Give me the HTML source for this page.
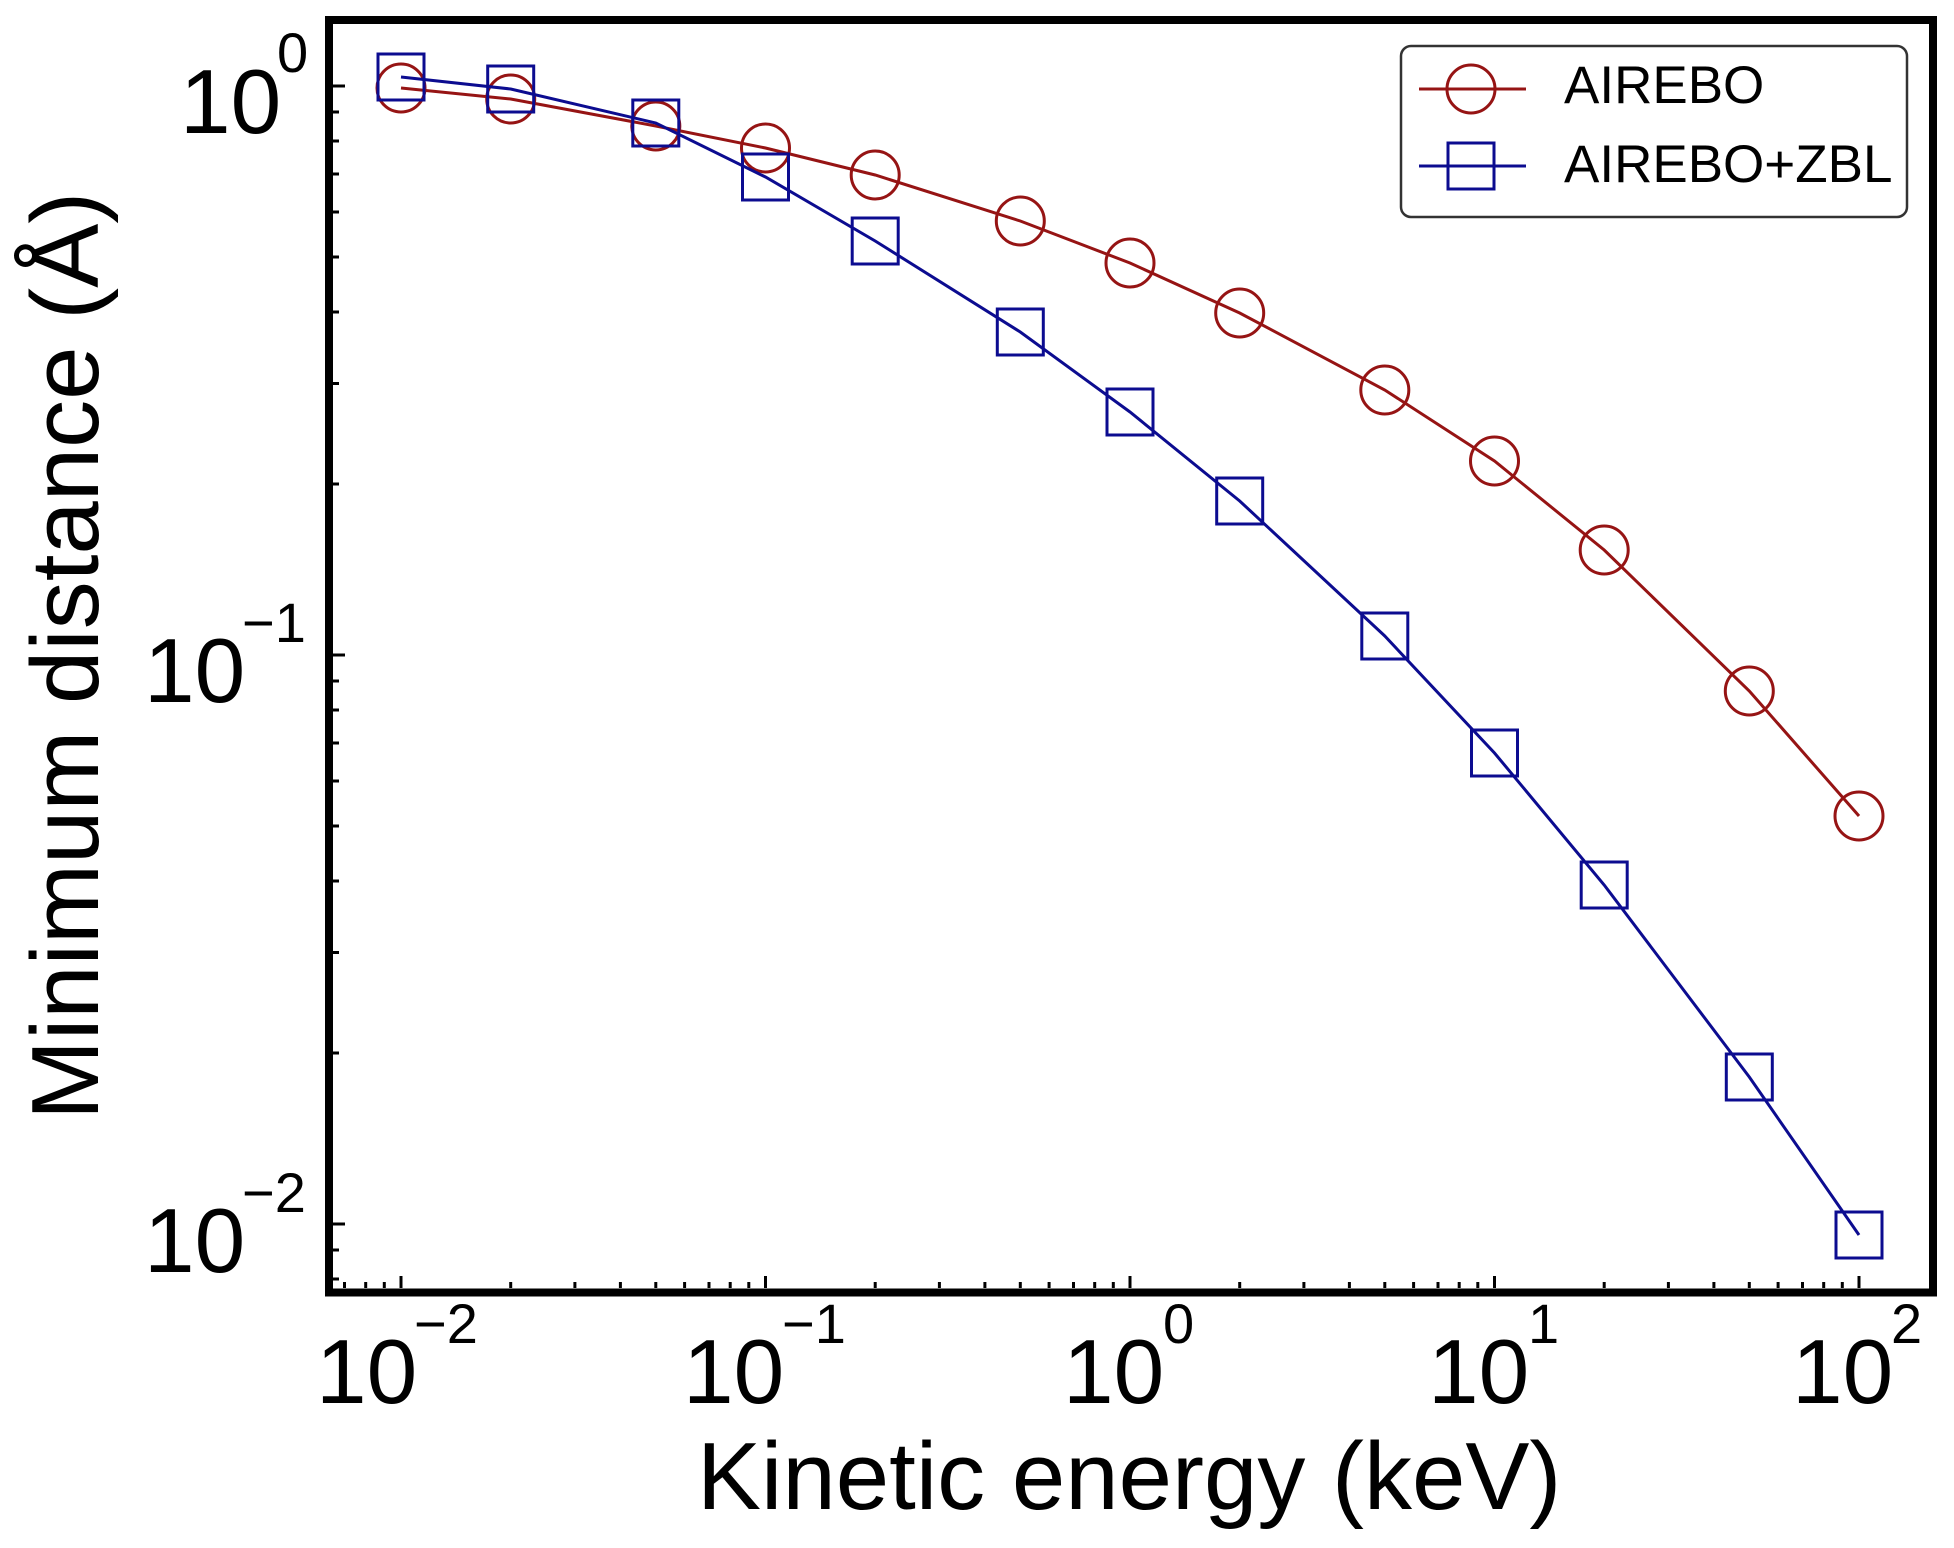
<!DOCTYPE html>
<html>
<head>
<meta charset="utf-8">
<style>
  html, body { margin: 0; padding: 0; background: #ffffff; }
  svg { display: block; }
  text { font-family: "Liberation Sans", Arial, sans-serif; fill: #000; }
</style>
</head>
<body>
<svg width="1954" height="1548" viewBox="0 0 1954 1548" xmlns="http://www.w3.org/2000/svg">
  <rect x="0" y="0" width="1954" height="1548" fill="#ffffff"/>

  <!-- Y-axis ticks (inward) -->
  <g stroke="#000" stroke-width="3">
    <!-- majors -->
    <line x1="333" y1="86" x2="345" y2="86"/>
    <line x1="333" y1="655" x2="345" y2="655"/>
    <line x1="333" y1="1224" x2="345" y2="1224"/>
    <!-- minors -->
    <line x1="333" y1="112" x2="339" y2="112"/>
    <line x1="333" y1="141" x2="339" y2="141"/>
    <line x1="333" y1="174" x2="339" y2="174"/>
    <line x1="333" y1="212" x2="339" y2="212"/>
    <line x1="333" y1="257" x2="339" y2="257"/>
    <line x1="333" y1="312" x2="339" y2="312"/>
    <line x1="333" y1="383.5" x2="339" y2="383.5"/>
    <line x1="333" y1="484" x2="339" y2="484"/>
    <line x1="333" y1="681" x2="339" y2="681"/>
    <line x1="333" y1="710" x2="339" y2="710"/>
    <line x1="333" y1="743" x2="339" y2="743"/>
    <line x1="333" y1="781" x2="339" y2="781"/>
    <line x1="333" y1="826" x2="339" y2="826"/>
    <line x1="333" y1="881" x2="339" y2="881"/>
    <line x1="333" y1="952.5" x2="339" y2="952.5"/>
    <line x1="333" y1="1053" x2="339" y2="1053"/>
    <line x1="333" y1="1250" x2="339" y2="1250"/>
    <line x1="333" y1="1279" x2="339" y2="1279"/>
  </g>

  <!-- X-axis ticks (inward) -->
  <g stroke="#000" stroke-width="3">
    <!-- majors -->
    <line x1="401" y1="1288" x2="401" y2="1276"/>
    <line x1="765.5" y1="1288" x2="765.5" y2="1276"/>
    <line x1="1130" y1="1288" x2="1130" y2="1276"/>
    <line x1="1494.5" y1="1288" x2="1494.5" y2="1276"/>
    <line x1="1859" y1="1288" x2="1859" y2="1276"/>
    <!-- minors -->
    <line x1="344.5" y1="1288" x2="344.5" y2="1282"/>
    <line x1="365.7" y1="1288" x2="365.7" y2="1282"/>
    <line x1="384.3" y1="1288" x2="384.3" y2="1282"/>

    <line x1="510.7" y1="1288" x2="510.7" y2="1282"/>
    <line x1="574.9" y1="1288" x2="574.9" y2="1282"/>
    <line x1="620.4" y1="1288" x2="620.4" y2="1282"/>
    <line x1="655.8" y1="1288" x2="655.8" y2="1282"/>
    <line x1="684.6" y1="1288" x2="684.6" y2="1282"/>
    <line x1="709" y1="1288" x2="709" y2="1282"/>
    <line x1="730.2" y1="1288" x2="730.2" y2="1282"/>
    <line x1="748.8" y1="1288" x2="748.8" y2="1282"/>

    <line x1="875.2" y1="1288" x2="875.2" y2="1282"/>
    <line x1="939.4" y1="1288" x2="939.4" y2="1282"/>
    <line x1="984.9" y1="1288" x2="984.9" y2="1282"/>
    <line x1="1020.3" y1="1288" x2="1020.3" y2="1282"/>
    <line x1="1049.1" y1="1288" x2="1049.1" y2="1282"/>
    <line x1="1073.5" y1="1288" x2="1073.5" y2="1282"/>
    <line x1="1094.7" y1="1288" x2="1094.7" y2="1282"/>
    <line x1="1113.3" y1="1288" x2="1113.3" y2="1282"/>

    <line x1="1239.7" y1="1288" x2="1239.7" y2="1282"/>
    <line x1="1303.9" y1="1288" x2="1303.9" y2="1282"/>
    <line x1="1349.4" y1="1288" x2="1349.4" y2="1282"/>
    <line x1="1384.8" y1="1288" x2="1384.8" y2="1282"/>
    <line x1="1413.6" y1="1288" x2="1413.6" y2="1282"/>
    <line x1="1438" y1="1288" x2="1438" y2="1282"/>
    <line x1="1459.2" y1="1288" x2="1459.2" y2="1282"/>
    <line x1="1477.8" y1="1288" x2="1477.8" y2="1282"/>

    <line x1="1604.2" y1="1288" x2="1604.2" y2="1282"/>
    <line x1="1668.4" y1="1288" x2="1668.4" y2="1282"/>
    <line x1="1713.9" y1="1288" x2="1713.9" y2="1282"/>
    <line x1="1749.3" y1="1288" x2="1749.3" y2="1282"/>
    <line x1="1778.1" y1="1288" x2="1778.1" y2="1282"/>
    <line x1="1802.5" y1="1288" x2="1802.5" y2="1282"/>
    <line x1="1823.7" y1="1288" x2="1823.7" y2="1282"/>
    <line x1="1842.3" y1="1288" x2="1842.3" y2="1282"/>
  </g>

  <!-- AIREBO series (dark red, circles) -->
  <g stroke="#961414" stroke-width="3" fill="none">
    <polyline points="401,88 510.7,99 655.8,126 765.5,148 875.2,175 1020.3,221 1130,263 1239.7,313 1384.8,390 1494.5,461 1604.2,550 1749.3,691 1859,816"/>
    <circle cx="401" cy="88" r="24"/>
    <circle cx="510.7" cy="99" r="24"/>
    <circle cx="655.8" cy="126" r="24"/>
    <circle cx="765.5" cy="148" r="24"/>
    <circle cx="875.2" cy="175" r="24"/>
    <circle cx="1020.3" cy="221" r="24"/>
    <circle cx="1130" cy="263" r="24"/>
    <circle cx="1239.7" cy="313" r="24"/>
    <circle cx="1384.8" cy="390" r="24"/>
    <circle cx="1494.5" cy="461" r="24"/>
    <circle cx="1604.2" cy="550" r="24"/>
    <circle cx="1749.3" cy="691" r="24"/>
    <circle cx="1859" cy="816" r="24"/>
  </g>

  <!-- AIREBO+ZBL series (dark blue, squares) -->
  <g stroke="#0c0c90" stroke-width="3" fill="none">
    <polyline points="401,77 510.7,89 655.8,123 765.5,177 875.2,241 1020.3,332 1130,412 1239.7,501 1384.8,636 1494.5,753 1604.2,885 1749.3,1077 1859,1235"/>
    <rect x="378" y="54" width="46" height="46"/>
    <rect x="487.7" y="66" width="46" height="46"/>
    <rect x="632.8" y="100" width="46" height="46"/>
    <rect x="742.5" y="154" width="46" height="46"/>
    <rect x="852.2" y="218" width="46" height="46"/>
    <rect x="997.3" y="309" width="46" height="46"/>
    <rect x="1107" y="389" width="46" height="46"/>
    <rect x="1216.7" y="478" width="46" height="46"/>
    <rect x="1361.8" y="613" width="46" height="46"/>
    <rect x="1471.5" y="730" width="46" height="46"/>
    <rect x="1581.2" y="862" width="46" height="46"/>
    <rect x="1726.3" y="1054" width="46" height="46"/>
    <rect x="1836" y="1212" width="46" height="46"/>
  </g>

  <!-- Legend -->
  <rect x="1401" y="46" width="506" height="171" rx="10" ry="10" fill="#ffffff" stroke="#333333" stroke-width="2.5"/>
  <line x1="1419" y1="89" x2="1526" y2="89" stroke="#961414" stroke-width="3"/>
  <circle cx="1471" cy="89" r="24" fill="none" stroke="#961414" stroke-width="3"/>
  <line x1="1419" y1="166" x2="1526" y2="166" stroke="#0c0c90" stroke-width="3"/>
  <rect x="1448" y="143" width="46" height="46" fill="none" stroke="#0c0c90" stroke-width="3"/>
  <text x="1564" y="103" font-size="53">AIREBO</text>
  <text x="1564" y="182" font-size="53">AIREBO+ZBL</text>

  <!-- Axes frame -->
  <rect x="329" y="20" width="1604" height="1272.5" fill="none" stroke="#000" stroke-width="8"/>

  <!-- Y tick labels -->
  <text x="180" y="133" font-size="91">10</text>
  <text x="277" y="72" font-size="56">0</text>
  <text x="144" y="702" font-size="91">10</text>
  <text x="242" y="642" font-size="56">−1</text>
  <text x="144" y="1272" font-size="91">10</text>
  <text x="242" y="1212" font-size="56">−2</text>

  <!-- X tick labels -->
  <text x="316" y="1403" font-size="91">10</text>
  <text x="414" y="1343" font-size="56">−2</text>
  <text x="683" y="1403" font-size="91">10</text>
  <text x="782" y="1343" font-size="56">−1</text>
  <text x="1063" y="1403" font-size="91">10</text>
  <text x="1163" y="1343" font-size="56">0</text>
  <text x="1428" y="1403" font-size="91">10</text>
  <text x="1528" y="1343" font-size="56">1</text>
  <text x="1792" y="1403" font-size="91">10</text>
  <text x="1891" y="1343" font-size="56">2</text>

  <!-- Axis labels -->
  <text x="697" y="1509" font-size="96">Kinetic energy (keV)</text>
  <text x="0" y="0" font-size="96" transform="translate(98,1120) rotate(-90)">Minimum distance (Å)</text>
</svg>
</body>
</html>
